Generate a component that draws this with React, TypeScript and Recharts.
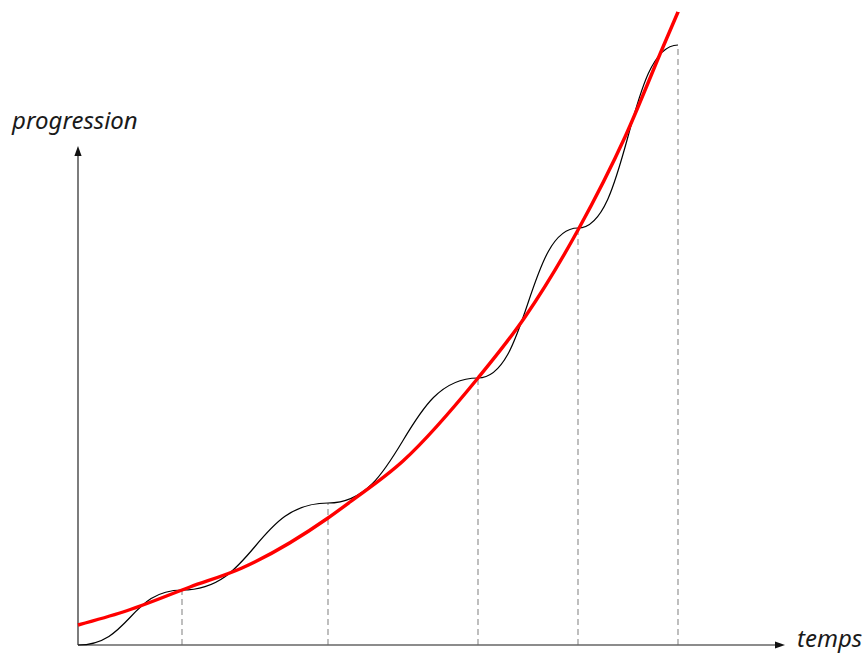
import React from 'react';
import { LineChart, Line, XAxis, YAxis, ReferenceLine, Customized } from 'recharts';

// Smooth "ideal" progression (red curve)
const trendTimes = [0, 0.45, 1.12, 1.64, 2.5, 2.72, 3.25, 4.0, 4.47, 5.0, 5.47, 5.85, 6.0];
const trendValues = [0.2, 0.33, 0.58, 0.77, 1.27, 1.43, 1.84, 2.67, 3.28, 4.15, 5.08, 5.98, 6.33];

// Step-wise real progression (black curve): plateau points
const stepTimes = [0, 1.04, 2.5, 4.0, 5.0, 6.0];
const stepValues = [0, 0.55, 1.42, 2.67, 4.17, 6.0];

const axisLabels = { y: 'progression', x: 'temps' };

const trendData = trendTimes.map((t, i) => ({ x: t, y: trendValues[i] }));
const stepData = stepTimes.map((t, i) => ({ x: t, y: stepValues[i] }));

const W = 864;
const H = 654;

const arrowShape = (props: any) => {
  const { x1, y1, x2, y2 } = props;
  const dx = x2 - x1;
  const dy = y2 - y1;
  const len = Math.hypot(dx, dy) || 1;
  const ux = dx / len;
  const uy = dy / len;
  const head = 10;
  const half = 3.6;
  const tipX = x2 + ux * head;
  const tipY = y2 + uy * head;
  const px = -uy;
  const py = ux;
  const pts = `${tipX},${tipY} ${x2 + px * half},${y2 + py * half} ${x2 - px * half},${y2 - py * half}`;
  return (
    <g>
      <line x1={x1} y1={y1} x2={x2} y2={y2} stroke="#666" strokeWidth={1.7} />
      <polygon points={pts} fill="#111" />
    </g>
  );
};

const Labels = () => (
  <g fontFamily="'Noto Sans', sans-serif" fontStyle="italic" fontSize={24} fill="#1a1a1a">
    <text x={12} y={129}>{axisLabels.y}</text>
    <text x={797} y={647}>{axisLabels.x}</text>
  </g>
);

export default function App() {
  return (
    <div style={{ position: 'absolute', left: 0, top: 0, width: W, height: H, background: '#fff' }}>
      <LineChart width={W} height={H} margin={{ top: 0, right: 0, bottom: 0, left: 0 }}>
        <XAxis type="number" dataKey="x" domain={[-0.78, 7.86]} hide allowDataOverflow />
        <YAxis type="number" dataKey="y" domain={[-0.09, 6.45]} hide allowDataOverflow />
        {stepTimes.slice(1).map((t, i) => (
          <ReferenceLine
            key={`d${i}`}
            segment={[{ x: t, y: 0 }, { x: t, y: stepValues[i + 1] }]}
            stroke="#8a8a8a"
            strokeWidth={1.1}
            strokeDasharray="6 4"
            ifOverflow="visible"
          />
        ))}
        <ReferenceLine segment={[{ x: 0, y: 0 }, { x: 0, y: 4.89 }]} shape={arrowShape} ifOverflow="visible" />
        <ReferenceLine segment={[{ x: 0, y: 0 }, { x: 6.97, y: 0 }]} shape={arrowShape} ifOverflow="visible" />
        <Line
          data={stepData}
          dataKey="y"
          type="bumpX"
          stroke="#000"
          strokeWidth={1.2}
          dot={false}
          activeDot={false}
          isAnimationActive={false}
        />
        <Line
          data={trendData}
          dataKey="y"
          type="monotone"
          stroke="#ff0000"
          strokeWidth={3.4}
          dot={false}
          activeDot={false}
          isAnimationActive={false}
        />
        <Customized component={Labels} />
      </LineChart>
    </div>
  );
}
